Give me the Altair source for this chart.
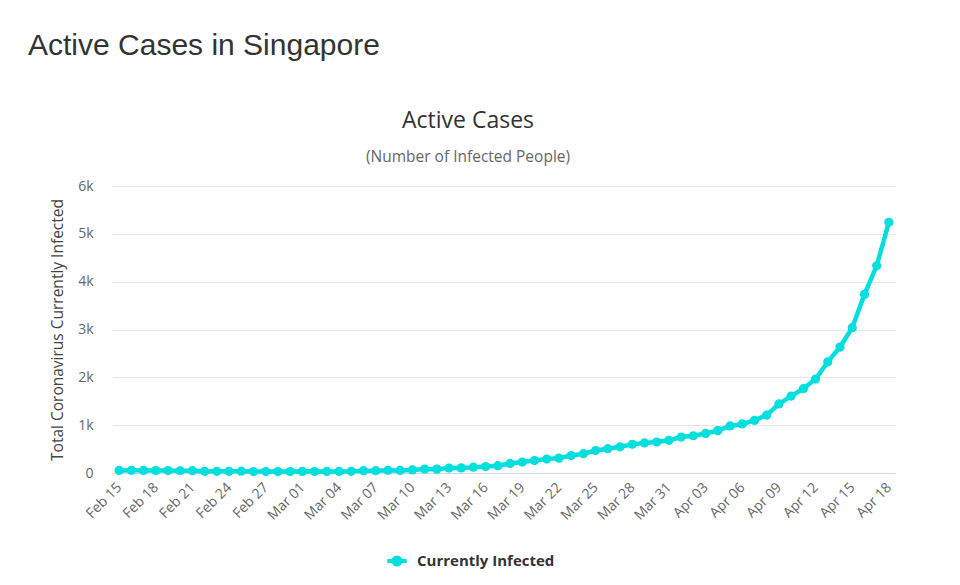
import altair as alt
import pandas as pd

# ---- data ----
dates = pd.date_range("2020-02-15", "2020-04-18", freq="D")
labels = [d.strftime("%b %d") for d in dates]
active = [
    54, 56, 53, 52, 50, 47, 48, 35, 36, 36, 38, 31, 30, 29, 30,          # Feb 15-29
    34, 30, 32, 33, 36, 48, 48, 57, 54, 64, 82, 81, 103, 107, 121, 134,  # Mar 01-16
    152, 199, 228, 261, 292, 311, 365, 404, 469, 509, 547, 601, 629,     # Mar 17-29
    648, 683,                                                            # Mar 30-31
    752, 779, 827, 886, 983, 1025, 1098, 1211, 1444, 1609, 1763, 1964,   # Apr 01-12
    2324, 2633, 3037, 3734, 4331, 5241,                                  # Apr 13-18
]
series_name = ["Currently Infected"] * len(labels)
tick_labels = labels[::3]
y_ticks = [0, 1000, 2000, 3000, 4000, 5000, 6000]

df = pd.DataFrame({"label": labels, "active": active, "series": series_name})

CYAN = "#00dede"
FONT = "Open Sans"

legend_symbol = (
    "M -1 0 L 1 0 "
    "M 0.36 0 A 0.36 0.36 0 1 1 -0.36 0 A 0.36 0.36 0 1 1 0.36 0 Z"
)

base = alt.Chart(df)

x_enc = alt.X(
    "label:O",
    sort=labels,
    scale=alt.Scale(type="point", padding=0.5),
    axis=alt.Axis(
        values=tick_labels,
        labelAngle=-45,
        labelAlign="right",
        labelBaseline="middle",
        labelFont=FONT,
        labelFontSize=14,
        labelColor="#666666",
        labelPadding=12,
        ticks=False,
        domainColor="#ccd6eb",
        domainWidth=1,
        grid=False,
        title=None,
    ),
)
y_enc = alt.Y(
    "active:Q",
    scale=alt.Scale(domain=[0, 6000], nice=False),
    axis=alt.Axis(
        values=y_ticks,
        labelExpr="datum.value == 0 ? '0' : (datum.value / 1000) + 'k'",
        labelFont=FONT,
        labelFontSize=14,
        labelColor="#666666",
        labelPadding=20,
        ticks=False,
        domain=False,
        gridColor="#e6e6e6",
        gridWidth=1,
        title="Total Coronavirus Currently Infected",
        titleFont=FONT,
        titleFontSize=15.5,
        titleFontWeight="normal",
        titleColor="#444444",
        titlePadding=12,
    ),
)
color_enc = alt.Color(
    "series:N",
    scale=alt.Scale(range=[CYAN]),
    legend=alt.Legend(
        title=None,
        orient="none",
        legendX=272,
        legendY=363,
        symbolType=legend_symbol,
        symbolSize=380,
        symbolStrokeWidth=4,
        symbolStrokeColor=CYAN,
        symbolFillColor=CYAN,
        labelFont=FONT,
        labelFontSize=15,
        labelFontWeight="bold",
        labelColor="#333333",
        labelOffset=8,
    ),
)

line = base.mark_line(strokeWidth=4.5, color=CYAN).encode(x=x_enc, y=y_enc, color=color_enc)
points = base.mark_point(filled=True, size=85, opacity=1, color=CYAN).encode(
    x=x_enc, y=y_enc, color=alt.Color("series:N", scale=alt.Scale(range=[CYAN]), legend=None)
)

one = alt.Data(values=[{}])
header = alt.Chart(one).mark_text(
    align="left", baseline="alphabetic", font="Liberation Sans", fontSize=30, color="#333333"
).encode(x=alt.value(-85), y=alt.value(-131), text=alt.value("Active Cases in Singapore"))
title = alt.Chart(one).mark_text(
    align="center", baseline="alphabetic", font=FONT, fontSize=23, color="#333333"
).encode(x=alt.value(355), y=alt.value(-58), text=alt.value("Active Cases"))
subtitle = alt.Chart(one).mark_text(
    align="center", baseline="alphabetic", font=FONT, fontSize=15.5, color="#666666"
).encode(x=alt.value(355), y=alt.value(-24), text=alt.value("(Number of Infected People)"))

chart = (
    alt.layer(line, points, header, title, subtitle)
    .properties(
        width=782,
        height=287,
        autosize=alt.AutoSizeParams(type="none"),
        padding={"left": 113, "top": 186, "right": 65, "bottom": 112},
        background="white",
    )
    .configure_view(stroke=None)
)

chart.save("out.html", embed_options={"renderer": "svg", "actions": False})
